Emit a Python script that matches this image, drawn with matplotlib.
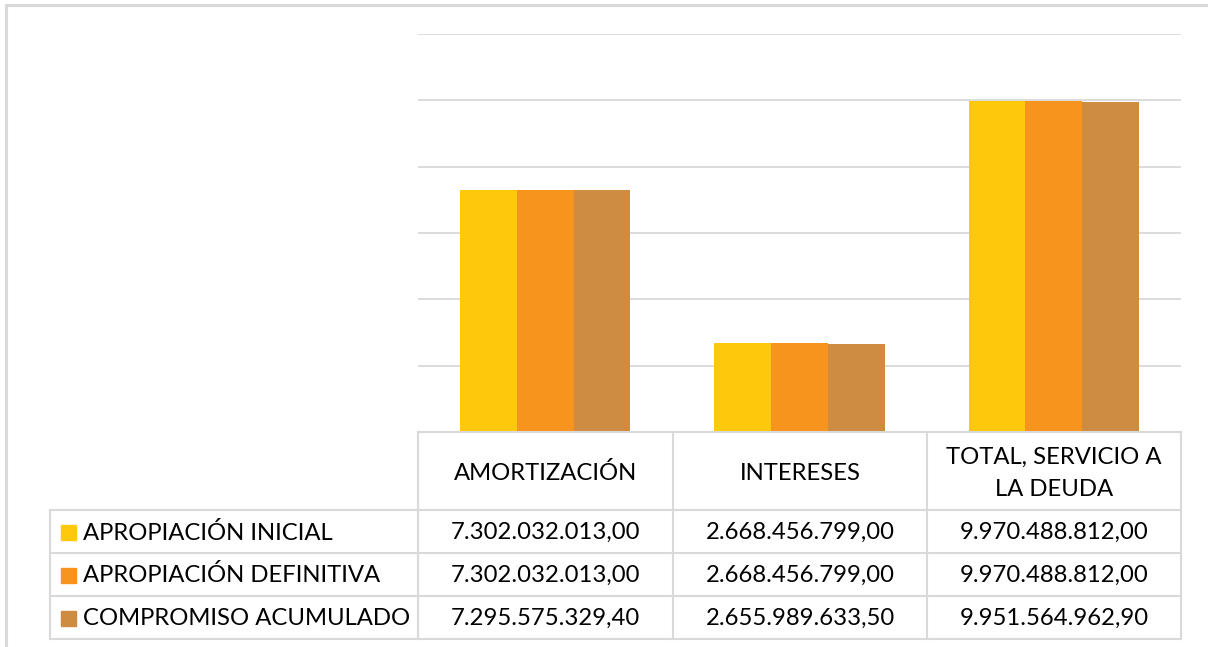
"""Servicio a la deuda: column chart with an Excel-style data table."""

import matplotlib.pyplot as plt
import numpy as np
from matplotlib.lines import Line2D
from matplotlib.patches import Rectangle

categories = ["AMORTIZACIÓN", "INTERESES", "TOTAL, SERVICIO A\nLA DEUDA"]
series_names = ["APROPIACIÓN INICIAL", "APROPIACIÓN DEFINITIVA", "COMPROMISO ACUMULADO"]
apropiacion_inicial = [7302032013.00, 2668456799.00, 9970488812.00]
apropiacion_definitiva = [7302032013.00, 2668456799.00, 9970488812.00]
compromiso_acumulado = [7295575329.40, 2655989633.50, 9951564962.90]

colors = ["#FFC90B", "#F7941E", "#CD8C42"]
grid_color = "#D9D9D9"
W, H = 1208, 647


def fx(x):
    return x / W


def fy(y):
    return 1 - y / H


def fmt(v):
    s = f"{v:,.2f}"
    return s.replace(",", "X").replace(".", ",").replace("X", ".")


plt.rcParams["font.family"] = ["Lato", "DejaVu Sans"]
fig = plt.figure(figsize=(W / 100, H / 100), dpi=100)

# plot area
left, right, top, base = 418, 1181, 34, 432
ax = fig.add_axes([fx(left), fy(base), fx(right - left), (base - top) / H])
ax.set_ylim(0, 12e9)
ax.set_xlim(-0.5, len(categories) - 0.5)
ax.set_yticks(np.arange(0, 12e9 + 1, 2e9))
ax.yaxis.grid(True, color=grid_color, linewidth=1.3)
ax.set_axisbelow(True)
ax.tick_params(left=False, bottom=False, labelleft=False, labelbottom=False)
for s in ax.spines.values():
    s.set_visible(False)

series = [apropiacion_inicial, apropiacion_definitiva, compromiso_acumulado]
x = np.arange(len(categories))
bw = 0.67 / 3
for i, vals in enumerate(series):
    ax.bar(x + (i - 1) * bw, vals, width=bw, color=colors[i], zorder=2)

# outer chart frame
lw_frame = 2.2
fig.add_artist(Line2D([fx(6), fx(6)], [fy(5), fy(H + 5)], color="#D9D9D9", lw=lw_frame))
fig.add_artist(Line2D([fx(6), fx(W + 5)], [fy(5), fy(5)], color="#D9D9D9", lw=lw_frame))

# data table
col_x = [418, 673, 927, 1181]
row_y = [432, 510, 553, 596, 639]
label_x = 50
tl = dict(color=grid_color, lw=1.5)
fig.add_artist(Line2D([fx(col_x[0]), fx(col_x[-1])], [fy(row_y[0])] * 2, **tl))
for yy in row_y[1:]:
    fig.add_artist(Line2D([fx(label_x), fx(col_x[-1])], [fy(yy)] * 2, **tl))
for xx in col_x:
    fig.add_artist(Line2D([fx(xx)] * 2, [fy(row_y[0]), fy(row_y[-1])], **tl))
fig.add_artist(Line2D([fx(label_x)] * 2, [fy(row_y[1]), fy(row_y[-1])], **tl))

fs = 17.2
for j, cat in enumerate(categories):
    cx = (col_x[j] + col_x[j + 1]) / 2
    cy = (row_y[0] + row_y[1]) / 2 + 2
    fig.text(fx(cx), fy(cy), cat, ha="center", va="center", fontsize=fs,
             linespacing=1.65)

for i, (name, vals) in enumerate(zip(series_names, series)):
    cy = (row_y[i + 1] + row_y[i + 2]) / 2 + 1
    fig.add_artist(Rectangle((fx(61), fy(cy + 7.5)), 15 / W, 15 / H,
                             color=colors[i], transform=fig.transFigure))
    fig.text(fx(83), fy(cy), name, ha="left", va="center", fontsize=fs)
    for j, v in enumerate(vals):
        cx = (col_x[j] + col_x[j + 1]) / 2
        fig.text(fx(cx), fy(cy), fmt(v), ha="center", va="center", fontsize=fs)

fig.savefig("out.png", dpi=100, facecolor="white")
plt.close(fig)
